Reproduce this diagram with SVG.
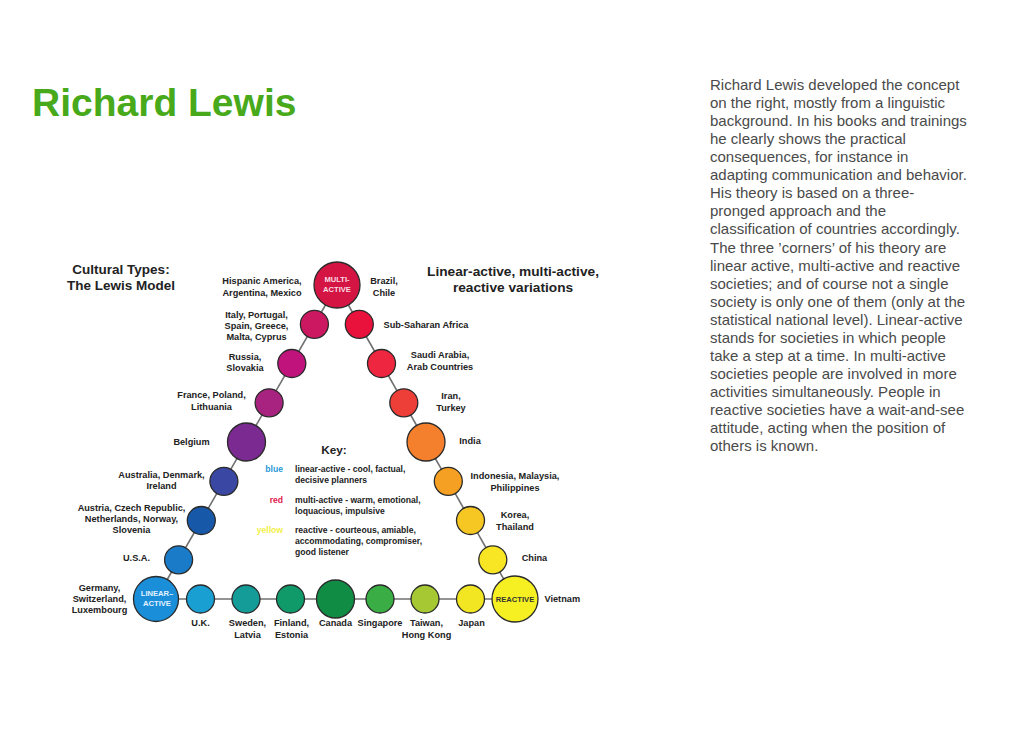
<svg xmlns="http://www.w3.org/2000/svg" width="1024" height="748" viewBox="0 0 1024 748">
<style>
.lbl{font-family:"Liberation Sans",Arial,sans-serif;font-weight:bold;font-size:9.2px;fill:#222}
.c{stroke:#2a2a2a;stroke-width:1.3}
.in{font-family:"Liberation Sans",Arial,sans-serif;font-weight:bold;font-size:7.6px;text-anchor:middle}
.key{font-family:"Liberation Sans",Arial,sans-serif;font-weight:bold;font-size:8.6px;fill:#222}
.keyc{font-family:"Liberation Sans",Arial,sans-serif;font-weight:bold;font-size:8.6px;text-anchor:end}
.body{font-family:"Liberation Sans",Arial,sans-serif;font-size:15px;fill:#4a4a4a}
.mid{text-anchor:middle}
.conn{stroke:#707070;stroke-width:1.6;fill:none}
</style>
<rect width="1024" height="748" fill="#ffffff"/>
<text x="32" y="115.5" font-family="Liberation Sans,Arial,sans-serif" font-weight="bold" font-size="39" fill="#48a91a">Richard Lewis</text>
<g id="description" class="body">
<text x="710" y="90">Richard Lewis developed the concept</text>
<text x="710" y="108">on the right, mostly from a linguistic</text>
<text x="710" y="126.1">background. In his books and trainings</text>
<text x="710" y="144.2">he clearly shows the practical</text>
<text x="710" y="162.2">consequences, for instance in</text>
<text x="710" y="180.3">adapting communication and behavior.</text>
<text x="710" y="198.3">His theory is based on a three-</text>
<text x="710" y="216.4">pronged approach and the</text>
<text x="710" y="234.4">classification of countries accordingly.</text>
<text x="710" y="252.5">The three ’corners’ of his theory are</text>
<text x="710" y="270.5">linear active, multi-active and reactive</text>
<text x="710" y="288.6">societies; and of course not a single</text>
<text x="710" y="306.6">society is only one of them (only at the</text>
<text x="710" y="324.7">statistical national level). Linear-active</text>
<text x="710" y="342.7">stands for societies in which people</text>
<text x="710" y="360.8">take a step at a time. In multi-active</text>
<text x="710" y="378.8">societies people are involved in more</text>
<text x="710" y="396.9">activities simultaneously. People in</text>
<text x="710" y="414.9">reactive societies have a wait-and-see</text>
<text x="710" y="433">attitude, acting when the position of</text>
<text x="710" y="451">others is known.</text>
</g>
<g id="diagram-title" font-family="Liberation Sans,Arial,sans-serif" font-weight="bold" fill="#222" text-anchor="middle">
<text x="121" y="274" font-size="13.5">Cultural Types:</text>
<text x="121" y="290" font-size="13.5">The Lewis Model</text>
<text x="513" y="275.5" font-size="13.7">Linear-active, multi-active,</text>
<text x="513" y="291.5" font-size="13.7">reactive variations</text>
</g>
<g id="connectors">
<line class="conn" x1="156" y1="599" x2="337" y2="285"/>
<line class="conn" x1="337" y1="285" x2="515" y2="599"/>
<line class="conn" x1="156" y1="599" x2="515" y2="599"/>
</g>
<g id="key">
<text x="334" y="453.5" text-anchor="middle" font-family="Liberation Sans,Arial,sans-serif" font-weight="bold" font-size="11.8" fill="#222">Key:</text>
<text class="keyc" x="283" y="471.7" fill="#2a9ad8">blue</text>
<text class="key" x="295" y="471.7">linear-active - cool, factual,</text>
<text class="key" x="295" y="482.7">decisive planners</text>
<text class="keyc" x="283" y="503.3" fill="#e0204a">red</text>
<text class="key" x="295" y="503.3">multi-active - warm, emotional,</text>
<text class="key" x="295" y="514">loquacious, impulsive</text>
<text class="keyc" x="283" y="533.3" fill="#f2f04a">yellow</text>
<text class="key" x="295" y="533.3">reactive - courteous, amiable,</text>
<text class="key" x="295" y="544.2">accommodating, compromiser,</text>
<text class="key" x="295" y="555">good listener</text>
</g>
<g id="multi-active">
<circle class="c" cx="337" cy="285" r="23" fill="#d41443"/>
<text class="in" x="337" y="281.5" fill="#f8dce4">MULTI-</text>
<text class="in" x="337" y="291.5" fill="#f8dce4">ACTIVE</text>
<text class="lbl mid" x="262" y="284">Hispanic America,</text>
<text class="lbl mid" x="262" y="295.5">Argentina, Mexico</text>
<text class="lbl mid" x="384" y="284">Brazil,</text>
<text class="lbl mid" x="384" y="295.5">Chile</text>
</g>
<g id="italy">
<circle class="c" cx="314.4" cy="324.3" r="14" fill="#cc1860"/>
<text class="lbl mid" x="256.5" y="317.5">Italy, Portugal,</text>
<text class="lbl mid" x="256.5" y="328.8">Spain, Greece,</text>
<text class="lbl mid" x="256.5" y="340.1">Malta, Cyprus</text>
</g>
<g id="russia">
<circle class="c" cx="291.8" cy="363.5" r="14" fill="#c0147c"/>
<text class="lbl mid" x="245" y="359.5">Russia,</text>
<text class="lbl mid" x="245" y="370.8">Slovakia</text>
</g>
<g id="france">
<circle class="c" cx="269.1" cy="402.8" r="14" fill="#a8237f"/>
<text class="lbl mid" x="211.5" y="398.3">France, Poland,</text>
<text class="lbl mid" x="211.5" y="409.6">Lithuania</text>
</g>
<g id="belgium">
<circle class="c" cx="246.5" cy="442" r="19" fill="#7a2a90"/>
<text class="lbl mid" x="191.5" y="445">Belgium</text>
</g>
<g id="australia">
<circle class="c" cx="223.9" cy="481.3" r="14" fill="#3a48a4"/>
<text class="lbl mid" x="161.5" y="477.7">Australia, Denmark,</text>
<text class="lbl mid" x="161.5" y="489">Ireland</text>
</g>
<g id="austria">
<circle class="c" cx="201.3" cy="520.5" r="14" fill="#1858a8"/>
<text class="lbl mid" x="131.5" y="510.7">Austria, Czech Republic,</text>
<text class="lbl mid" x="131.5" y="522">Netherlands, Norway,</text>
<text class="lbl mid" x="131.5" y="533.3">Slovenia</text>
</g>
<g id="usa">
<circle class="c" cx="178.6" cy="559.8" r="14" fill="#1a7cc8"/>
<text class="lbl mid" x="136.5" y="560.5">U.S.A.</text>
</g>
<g id="linear-active">
<circle class="c" cx="156" cy="599" r="22.5" fill="#1a8ed8"/>
<text class="in" x="157" y="596" fill="#e4f2ff">LINEAR–</text>
<text class="in" x="157" y="606" fill="#e4f2ff">ACTIVE</text>
<text class="lbl mid" x="99.5" y="590.5">Germany,</text>
<text class="lbl mid" x="99.5" y="601.8">Switzerland,</text>
<text class="lbl mid" x="99.5" y="613.1">Luxembourg</text>
</g>
<g id="sub-saharan">
<circle class="c" cx="359.3" cy="324.3" r="14" fill="#e8123c"/>
<text class="lbl" x="383.5" y="328.3">Sub-Saharan Africa</text>
</g>
<g id="saudi">
<circle class="c" cx="381.5" cy="363.5" r="14" fill="#ee2640"/>
<text class="lbl mid" x="440" y="358">Saudi Arabia,</text>
<text class="lbl mid" x="440" y="369.5">Arab Countries</text>
</g>
<g id="iran">
<circle class="c" cx="403.8" cy="402.8" r="14" fill="#ee3e38"/>
<text class="lbl mid" x="451" y="399">Iran,</text>
<text class="lbl mid" x="451" y="410.5">Turkey</text>
</g>
<g id="india">
<circle class="c" cx="426" cy="442" r="19" fill="#f47f2c"/>
<text class="lbl" x="459.3" y="444">India</text>
</g>
<g id="indonesia">
<circle class="c" cx="448.3" cy="481.3" r="14" fill="#f5a023"/>
<text class="lbl mid" x="515" y="479.3">Indonesia, Malaysia,</text>
<text class="lbl mid" x="515" y="490.6">Philippines</text>
</g>
<g id="korea">
<circle class="c" cx="470.5" cy="520.5" r="14" fill="#f6c622"/>
<text class="lbl mid" x="515" y="518.3">Korea,</text>
<text class="lbl mid" x="515" y="529.6">Thailand</text>
</g>
<g id="china">
<circle class="c" cx="492.8" cy="559.8" r="14" fill="#f8e624"/>
<text class="lbl" x="521.7" y="560.7">China</text>
</g>
<g id="reactive">
<circle class="c" cx="515" cy="599" r="23" fill="#f6f022"/>
<text class="in" x="515" y="602" fill="#333">REACTIVE</text>
<text class="lbl" x="544.5" y="602">Vietnam</text>
</g>
<g id="uk">
<circle class="c" cx="200.5" cy="599" r="14" fill="#1a9fd2"/>
<text class="lbl mid" x="200.5" y="626">U.K.</text>
</g>
<g id="sweden">
<circle class="c" cx="246" cy="599" r="14" fill="#149c98"/>
<text class="lbl mid" x="247.5" y="626">Sweden,</text>
<text class="lbl mid" x="247.5" y="637.5">Latvia</text>
</g>
<g id="finland">
<circle class="c" cx="290.5" cy="599" r="14" fill="#109a6a"/>
<text class="lbl mid" x="291.5" y="626">Finland,</text>
<text class="lbl mid" x="291.5" y="637.5">Estonia</text>
</g>
<g id="canada">
<circle class="c" cx="335.5" cy="599" r="19" fill="#108c44"/>
<text class="lbl mid" x="335.5" y="626">Canada</text>
</g>
<g id="singapore">
<circle class="c" cx="380" cy="599" r="14" fill="#3aae44"/>
<text class="lbl mid" x="380" y="626">Singapore</text>
</g>
<g id="taiwan">
<circle class="c" cx="425" cy="599" r="14" fill="#a6c832"/>
<text class="lbl mid" x="426.5" y="626">Taiwan,</text>
<text class="lbl mid" x="426.5" y="637.5">Hong Kong</text>
</g>
<g id="japan">
<circle class="c" cx="470.5" cy="599" r="14" fill="#f2e622"/>
<text class="lbl mid" x="471.5" y="626">Japan</text>
</g>
</svg>
